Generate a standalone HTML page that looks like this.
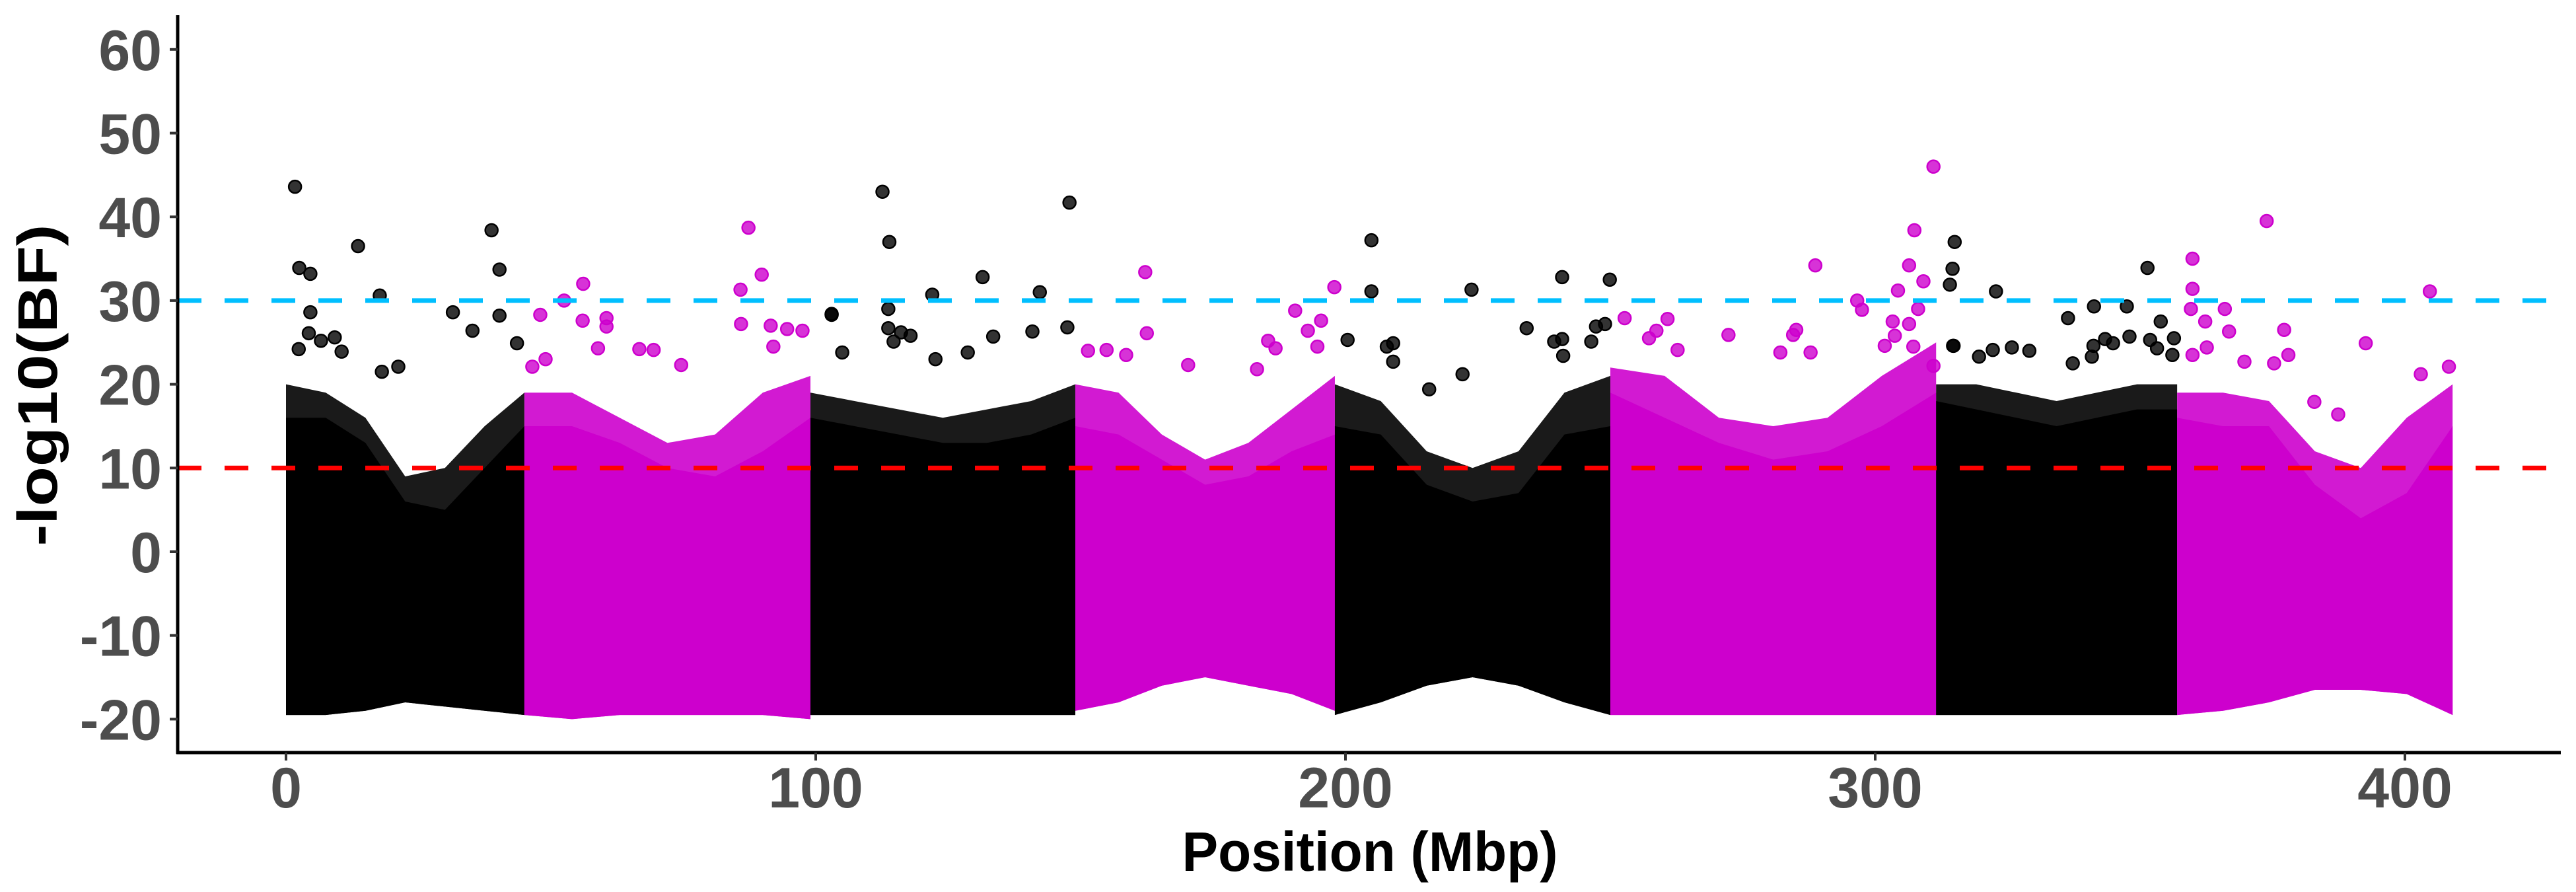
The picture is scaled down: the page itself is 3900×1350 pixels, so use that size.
<!DOCTYPE html>
<html><head><meta charset="utf-8"><style>
html,body{margin:0;padding:0;background:#fff;}
svg{display:block;}
</style></head><body>
<svg id="chart" xmlns="http://www.w3.org/2000/svg" width="3900" height="1350" viewBox="0 0 3900 1350">
<rect x="0" y="0" width="3900" height="1350" fill="#fff"/>
<g id="marks"></g>
<g id="axes"></g>
</svg>
<script>
// ---- data ----
const chromStart = [0, 45, 99, 149, 198, 250, 311.5, 357];
const chromEnd   = [45, 99, 149, 198, 250, 311.5, 357, 409];
const chromColor = ['black','magenta','black','magenta','black','magenta','black','magenta'];
const denseTop = [
  [16,16,13,6,5,10,15],
  [15,15,13,10,9,12,16],
  [16,15,14,13,13,14,16],
  [15,14,11,8,9,12,14],
  [15,14,8,6,7,14,15],
  [19,16,13,11,12,15,19],
  [18,17,16,15,16,17,17],
  [16,15,15,8,4,7,15]
];
const fringeTop = [
  [20,19,16,9,10,15,19],
  [19,19,16,13,14,19,21],
  [19,18,17,16,17,18,20],
  [20,19,14,11,13,17,21],
  [20,18,12,10,12,19,21],
  [22,21,16,15,16,21,25],
  [20,20,19,18,19,20,20],
  [19,19,18,12,10,16,20]
];
const bottomVal = [
  [-19.5,-19.5,-19,-18,-18.5,-19,-19.5],
  [-19.5,-20,-19.5,-19.5,-19.5,-19.5,-20],
  [-19.5,-19.5,-19.5,-19.5,-19.5,-19.5,-19.5],
  [-19,-18,-16,-15,-16,-17,-19],
  [-19.5,-18,-16,-15,-16,-18,-19.5],
  [-19.5,-19.5,-19.5,-19.5,-19.5,-19.5,-19.5],
  [-19.5,-19.5,-19.5,-19.5,-19.5,-19.5,-19.5],
  [-19.5,-19,-18,-16.5,-16.5,-17,-19.5]
];
const outlierPos = [
  1.7,2.5,4.6,13.6,17.7,4.6,38.8,40.3,40.3,31.5,35.2,4.3,6.6,9.2,10.5,2.4,18.1,21.2,43.6,
  87.3,89.8,85.8,56.1,52.5,48,56,60.5,60.5,58.9,66.7,69.4,74.6,85.9,91.5,94.6,97.5,92,49,46.5,
  103,112.6,113.9,103,122,131.5,142.3,147.9,113.7,113.7,116.1,117.9,114.7,105,133.5,140.9,147.5,128.7,122.6,
  162.2,197.9,162.5,190.5,195.4,192.9,185.4,186.8,151.4,154.9,158.6,170.3,183.3,194.7,
  204.9,204.9,200.4,209,207.8,223.8,240.9,249.9,234.2,222.1,215.8,240.9,247.3,249,239.4,246.4,209,241.1,
  311,307.4,306.4,288.7,309.1,304.3,296.6,297.5,303.3,306.4,308.1,252.7,260.8,258.7,257.3,272.3,285.1,284.5,282.1,287.8,303.7,301.8,307.2,262.7,311,
  315,314.6,314.1,314.8,322.8,351.4,341.3,347.5,336.4,353.9,348,343.4,344.9,356.4,351.9,353.2,356.1,341.2,340.9,337.3,314.7,322.2,325.8,329.1,319.6,
  373.9,359.9,359.9,404.7,359.6,366,362.3,366.8,377.2,392.6,359.9,362.6,378,369.7,375.3,408.3,403,387.4,382.9
];
const outlierVal = [
  43.6,33.9,33.2,36.5,30.6,28.6,38.4,33.7,28.2,28.6,26.4,26.1,25.2,25.6,23.9,24.2,21.5,22.1,24.9,
  38.7,33.1,31.3,32,30,28.3,27.6,27.9,26.9,24.3,24.2,24.1,22.3,27.2,27,26.6,26.4,24.5,23,22.1,
  28.3,43,37,28.4,30.7,32.8,31,41.7,29,26.7,26.2,25.8,25.1,23.8,25.7,26.3,26.8,23.8,23,
  33.4,31.6,26.1,28.8,27.6,26.4,25.2,24.3,24,24.1,23.5,22.3,21.8,24.5,
  37.2,31.1,25.3,24.9,24.5,31.3,32.8,32.5,26.7,21.2,19.4,25.4,26.9,27.2,25.1,25.1,22.7,23.4,
  46,38.4,34.2,34.2,32.3,31.2,30,28.9,27.5,27.2,29,27.9,27.8,26.4,25.5,25.9,26.5,25.9,23.8,23.8,25.8,24.6,24.5,24.1,22.2,
  37,33.8,31.9,24.6,31.1,33.9,29.3,29.3,27.9,27.5,25.7,25.4,24.9,25.5,25.3,24.3,23.5,24.6,23.3,22.5,24.6,24.1,24.4,24,23.3,
  39.5,35,31.4,31.1,29,29,27.5,26.3,26.5,24.9,23.5,24.4,23.5,22.7,22.5,22.1,21.2,16.4,17.9
];
const yTicks = [60,50,40,30,20,10,0,-10,-20];
const xTicks = [0,100,200,300,400];
const thresholdHigh = 30;
const thresholdLow = 10;

// ---- scales ----
const NS = 'http://www.w3.org/2000/svg';
function xScale(v){ return 433 + v*8.02; }
function yScale(v){ return 835 - v*12.67; }
const fillOf = {black:'#000000', magenta:'#CD00CD'};
const bandFill = {black:'#1a1a1a', magenta:'#D21AD2'};
const ptFill = {black:'rgba(0,0,0,0.8)', magenta:'rgba(205,0,205,0.8)'};
const marks = document.getElementById('marks');
const axes = document.getElementById('axes');
function mk(tag, attrs, parent){
  const e = document.createElementNS(NS, tag);
  for (const k in attrs) e.setAttribute(k, attrs[k]);
  parent.appendChild(e);
  return e;
}
function chromOf(p){
  for (let i=0;i<chromStart.length;i++) if (p>=chromStart[i] && p<=chromEnd[i]) return i;
  return 0;
}

// ---- chromosome blocks ----
for (let c=0;c<chromStart.length;c++){
  const n = denseTop[c].length;
  const s = chromStart[c], e = chromEnd[c];
  const posAt = i => s + (e-s)*i/(n-1);
  let fr = [], dn = [];
  for (let i=0;i<n;i++) fr.push(xScale(posAt(i))+','+yScale(fringeTop[c][i]));
  for (let i=n-1;i>=0;i--) fr.push(xScale(posAt(i))+','+yScale(bottomVal[c][i]));
  const fp = mk('polygon',{points:fr.join(' '),fill:bandFill[chromColor[c]]},marks);
  
  
  for (let i=0;i<n;i++) dn.push(xScale(posAt(i))+','+yScale(denseTop[c][i]));
  for (let i=n-1;i>=0;i--) dn.push(xScale(posAt(i))+','+yScale(bottomVal[c][i]));
  const dp = mk('polygon',{points:dn.join(' '),fill:fillOf[chromColor[c]]},marks);
  
  
}
// ---- outlier points ----
for (let i=0;i<outlierPos.length;i++){
  const col = chromColor[chromOf(outlierPos[i])];
  const pt = mk('circle',{cx:xScale(outlierPos[i]),cy:yScale(outlierVal[i]),r:9.5,fill:ptFill[col],stroke:fillOf[col],'stroke-width':2.5},marks);
  
  
}
// ---- threshold lines ----
const hl = mk('line',{x1:269,x2:3877,y1:yScale(thresholdHigh),y2:yScale(thresholdHigh),stroke:'#00BFFF','stroke-width':7,'stroke-dasharray':'36 35'},marks);


const ll = mk('line',{x1:269,x2:3877,y1:yScale(thresholdLow),y2:yScale(thresholdLow),stroke:'#FF0000','stroke-width':7,'stroke-dasharray':'36 35'},marks);



// ---- axes ----
const ya = mk('line',{x1:269,x2:269,y1:23,y2:1141,stroke:'#000','stroke-width':5},axes);


const xa = mk('line',{x1:267,x2:3877,y1:1139,y2:1139,stroke:'#000','stroke-width':5},axes);


for (const t of yTicks){
  const tk = mk('line',{x1:257,x2:269,y1:yScale(t),y2:yScale(t),stroke:'#333','stroke-width':4},axes);
  
  
  const lb = mk('text',{x:245,y:yScale(t)+31,'text-anchor':'end','font-family':'Liberation Sans, Arial, sans-serif','font-weight':'bold','font-size':86,fill:'#4D4D4D'},axes);
  lb.textContent = String(t);
  
  
}
for (const t of xTicks){
  const tk = mk('line',{x1:xScale(t),x2:xScale(t),y1:1139,y2:1151,stroke:'#333','stroke-width':4},axes);
  
  
  const lb = mk('text',{x:xScale(t),y:1222,'text-anchor':'middle','font-family':'Liberation Sans, Arial, sans-serif','font-weight':'bold','font-size':86,fill:'#4D4D4D'},axes);
  lb.textContent = String(t);
  
  
}
const xt = mk('text',{x:2074,y:1318,'text-anchor':'middle','font-family':'Liberation Sans, Arial, sans-serif','font-weight':'bold','font-size':84,fill:'#000',textLength:569,lengthAdjust:'spacingAndGlyphs'},axes);
xt.textContent = 'Position (Mbp)';


const yt = mk('text',{x:0,y:0,'text-anchor':'middle','font-family':'Liberation Sans, Arial, sans-serif','font-weight':'bold','font-size':84,fill:'#000',textLength:487,lengthAdjust:'spacingAndGlyphs',transform:'translate(86,583) rotate(-90)'},axes);
yt.textContent = '-log10(BF)';


</script>
</body></html>
